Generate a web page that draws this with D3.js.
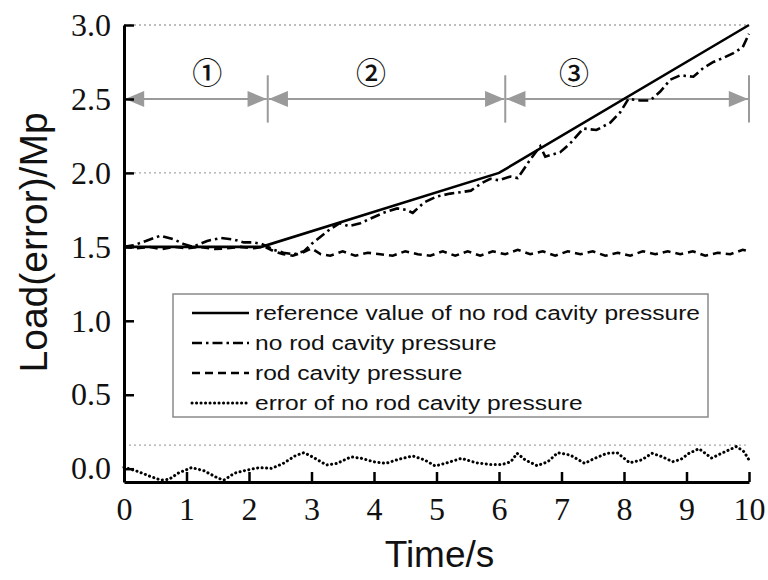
<!DOCTYPE html>
<html><head><meta charset="utf-8">
<script src="https://cdn.jsdelivr.net/npm/d3@7"></script>
<style>
  body { margin: 0; background: #fff; }
  svg { display: block; }
</style>
</head><body>
<svg id="chart" width="768" height="580"></svg>
<script>
// reference value of no rod cavity pressure
const refTime = [0, 2.2, 6, 10];
const refLoad = [1.5, 1.5, 2.0, 3.0];

// no rod cavity pressure (measured)
const noRodTime = [0, 0.15, 0.35, 0.58, 0.8, 0.95, 1.1, 1.33, 1.55, 1.75, 1.92, 2.07, 2.2, 2.4, 2.55, 2.72, 2.88, 3.0, 3.15, 3.3, 3.45, 3.6, 3.78, 3.94, 4.15, 4.37, 4.52, 4.62, 4.8, 5.0, 5.22, 5.4, 5.55, 5.72, 5.86, 6.0, 6.18, 6.3, 6.5, 6.66, 6.74, 6.82, 6.98, 7.14, 7.35, 7.56, 7.78, 7.94, 8.07, 8.26, 8.42, 8.58, 8.74, 8.9, 9.11, 9.27, 9.43, 9.6, 9.75, 9.9, 10];
const noRodLoad = [1.50, 1.51, 1.54, 1.575, 1.55, 1.52, 1.50, 1.54, 1.56, 1.55, 1.53, 1.53, 1.52, 1.48, 1.46, 1.45, 1.47, 1.52, 1.57, 1.62, 1.66, 1.64, 1.66, 1.69, 1.73, 1.76, 1.75, 1.73, 1.80, 1.84, 1.86, 1.87, 1.88, 1.93, 1.96, 1.95, 1.975, 1.965, 2.09, 2.18, 2.11, 2.12, 2.14, 2.20, 2.30, 2.29, 2.34, 2.41, 2.50, 2.49, 2.49, 2.55, 2.63, 2.66, 2.65, 2.71, 2.75, 2.78, 2.81, 2.85, 2.94];

// rod cavity pressure
const rodTime = [0, 0.2, 0.4, 0.6, 0.8, 1.0, 1.2, 1.45, 1.65, 1.85, 2.05, 2.25, 2.4, 2.55, 2.7, 2.85, 3.0, 3.15, 3.3, 3.5, 3.7, 3.9, 4.1, 4.3, 4.5, 4.7, 4.9, 5.1, 5.3, 5.5, 5.7, 5.9, 6.1, 6.3, 6.5, 6.7, 6.9, 7.1, 7.3, 7.5, 7.7, 7.9, 8.1, 8.3, 8.5, 8.7, 8.9, 9.1, 9.3, 9.5, 9.7, 9.9, 10];
const rodLoad = [1.50, 1.49, 1.50, 1.485, 1.50, 1.49, 1.50, 1.485, 1.49, 1.50, 1.49, 1.50, 1.47, 1.45, 1.44, 1.46, 1.49, 1.45, 1.44, 1.47, 1.44, 1.46, 1.45, 1.44, 1.47, 1.45, 1.44, 1.47, 1.44, 1.47, 1.44, 1.47, 1.45, 1.48, 1.45, 1.47, 1.44, 1.47, 1.45, 1.47, 1.44, 1.46, 1.44, 1.47, 1.45, 1.47, 1.45, 1.47, 1.44, 1.46, 1.45, 1.48, 1.47];

// error of no rod cavity pressure
const errTime = [0, 0.23, 0.43, 0.59, 0.72, 0.88, 1.08, 1.28, 1.51, 1.6, 1.77, 1.96, 2.16, 2.36, 2.55, 2.75, 2.88, 3.01, 3.24, 3.41, 3.63, 3.8, 3.99, 4.19, 4.39, 4.62, 4.81, 4.98, 5.17, 5.4, 5.63, 5.86, 6.06, 6.19, 6.29, 6.42, 6.61, 6.78, 6.94, 7.14, 7.37, 7.53, 7.73, 7.89, 8.09, 8.28, 8.45, 8.61, 8.78, 8.91, 9.04, 9.2, 9.4, 9.56, 9.8, 9.92, 10];
const errLoad = [0.01, -0.02, -0.054, -0.077, -0.072, -0.027, 0.007, -0.014, -0.065, -0.077, -0.03, -0.01, 0.007, 0.002, 0.036, 0.09, 0.108, 0.081, 0.025, 0.036, 0.08, 0.07, 0.047, 0.036, 0.063, 0.086, 0.059, 0.018, 0.04, 0.07, 0.04, 0.029, 0.029, 0.047, 0.104, 0.059, 0.02, 0.047, 0.108, 0.092, 0.036, 0.07, 0.104, 0.108, 0.04, 0.059, 0.104, 0.081, 0.047, 0.063, 0.104, 0.135, 0.072, 0.104, 0.15, 0.115, 0.059];

// axis ticks and labels
const xTicks = [0, 1, 2, 3, 4, 5, 6, 7, 8, 9, 10];
const yTicks = [0, 0.5, 1.0, 1.5, 2.0, 2.5, 3.0];
const xTitle = "Time/s";
const yTitle = "Load(error)/Mp";

// dotted guide levels and the time where each stops
const guideLevels = [3.0, 2.0, 0.16];
const guideEnds = [10, 5.8, 9.95];

// working phases
const phaseBounds = [0, 2.3, 6.1, 10];
const phaseLabels = ["①", "②", "③"];
const phaseLabelTime = [1.33, 3.95, 7.2];
const phaseArrowLevel = 2.5;
const phaseLabelLevel = 2.67;

const legendLabels = [
  "reference value of no rod cavity pressure",
  "no rod cavity pressure",
  "rod cavity pressure",
  "error of no rod cavity pressure"
];

const svg = d3.select("#chart");
const x = d3.scaleLinear().domain([0, 10]).range([124, 749]);
const y = d3.scaleLinear().domain([-0.09, 3]).range([482, 25]);

// dotted guides
svg.append("g").selectAll("line").data(guideLevels).join("line")
  .attr("x1", x(0)).attr("x2", (d, i) => x(guideEnds[i]))
  .attr("y1", d => y(d)).attr("y2", d => y(d))
  .attr("stroke", "#a8a8a8").attr("stroke-width", 1.3)
  .attr("stroke-dasharray", "2,3");

// phase arrows
const defs = svg.append("defs");
defs.append("marker").attr("id", "arrowHead")
  .attr("markerUnits", "userSpaceOnUse")
  .attr("markerWidth", 20).attr("markerHeight", 16)
  .attr("viewBox", "0 0 18 15")
  .attr("refX", 18).attr("refY", 7.5)
  .attr("orient", "auto-start-reverse")
  .append("path").attr("d", "M0,0 L18,7.5 L0,15 Z").attr("fill", "#9a9a9a");

const phases = d3.range(phaseLabels.length);
const gPhase = svg.append("g");
gPhase.selectAll("line.span").data(phases).join("line")
  .attr("class", "span")
  .attr("x1", i => x(phaseBounds[i]) + 1).attr("x2", i => x(phaseBounds[i + 1]) - 1)
  .attr("y1", y(phaseArrowLevel)).attr("y2", y(phaseArrowLevel))
  .attr("stroke", "#9a9a9a").attr("stroke-width", 2)
  .attr("marker-start", "url(#arrowHead)").attr("marker-end", "url(#arrowHead)");
gPhase.selectAll("line.bound").data(phaseBounds.slice(1)).join("line")
  .attr("class", "bound")
  .attr("x1", d => x(d)).attr("x2", d => x(d))
  .attr("y1", y(phaseArrowLevel + 0.16)).attr("y2", y(phaseArrowLevel - 0.16))
  .attr("stroke", "#9a9a9a").attr("stroke-width", 2);
gPhase.selectAll("text").data(phases).join("text")
  .attr("x", i => x(phaseLabelTime[i])).attr("y", y(phaseLabelLevel))
  .attr("dy", "0.35em").attr("text-anchor", "middle")
  .attr("font-family", "'Noto Sans CJK SC', 'DejaVu Sans', sans-serif")
  .attr("font-size", 30).attr("font-weight", 500).attr("fill", "#111")
  .text(i => phaseLabels[i]);

// series
const line = d3.line().x(d => x(d[0])).y(d => y(d[1]));
const series = [
  { t: refTime, v: refLoad, dash: null, w: 2.6 },
  { t: noRodTime, v: noRodLoad, dash: "10,4,2.5,4", w: 2.6 },
  { t: rodTime, v: rodLoad, dash: "8,5", w: 2.6 },
  { t: errTime, v: errLoad, dash: "0.1,4.4", w: 3, cap: "round" }
];
svg.append("g").selectAll("path").data(series).join("path")
  .attr("d", s => line(d3.zip(s.t, s.v)))
  .attr("fill", "none").attr("stroke", "#000")
  .attr("stroke-width", s => s.w)
  .attr("stroke-dasharray", s => s.dash)
  .attr("stroke-linecap", s => s.cap || "butt");

// axes with inward ticks
const yAxis = d3.axisLeft(y).tickValues(yTicks).tickFormat(d3.format(".1f"))
  .tickSizeInner(-10).tickSizeOuter(0).tickPadding(13);
const xAxis = d3.axisBottom(x).tickValues(xTicks).tickFormat(d3.format("d"))
  .tickSizeInner(-10).tickSizeOuter(0).tickPadding(15);

const gy = svg.append("g").attr("transform", `translate(${x(0)},0)`).call(yAxis);
const gx = svg.append("g").attr("transform", `translate(0,${y.range()[0]})`).call(xAxis);
[gx, gy].forEach(g => {
  g.select(".domain").attr("stroke", "#000").attr("stroke-width", 3);
  g.selectAll(".tick line").attr("stroke", "#000").attr("stroke-width", 2.5);
  g.selectAll(".tick text").attr("fill", "#111")
    .attr("font-family", "'Liberation Serif', 'Times New Roman', serif")
    .attr("font-size", 32);
});

// axis titles
svg.append("text").attr("x", (x(0) + x(10)) / 2 + 3).attr("y", 567)
  .attr("text-anchor", "middle")
  .attr("font-family", "'Liberation Sans', Arial, sans-serif").attr("font-size", 37)
  .attr("fill", "#111").text(xTitle);
svg.append("text")
  .attr("transform", `translate(47,${y(1.53)}) rotate(-90)`)
  .attr("text-anchor", "middle")
  .attr("font-family", "'Liberation Sans', Arial, sans-serif").attr("font-size", 39)
  .attr("fill", "#111").text(yTitle);

// legend
const legend = svg.append("g").attr("transform", "translate(173,294)");
legend.append("rect").attr("width", 535).attr("height", 123)
  .attr("fill", "#fff").attr("stroke", "#8a8a8a").attr("stroke-width", 1.5);
const rows = legend.selectAll("g.row").data(series).join("g")
  .attr("class", "row")
  .attr("transform", (d, i) => `translate(0,${19 + i * 30})`);
rows.append("line").attr("x1", 19).attr("x2", 76)
  .attr("stroke", "#000").attr("stroke-width", s => s.w)
  .attr("stroke-dasharray", s => s.dash)
  .attr("stroke-linecap", s => s.cap || "butt");
rows.append("text")
  .attr("transform", "translate(82,0) scale(1.17,1)")
  .attr("dy", "0.35em")
  .attr("font-family", "'Liberation Sans', Arial, sans-serif").attr("font-size", 21)
  .attr("fill", "#111")
  .text((d, i) => legendLabels[i]);
</script>
</body></html>
